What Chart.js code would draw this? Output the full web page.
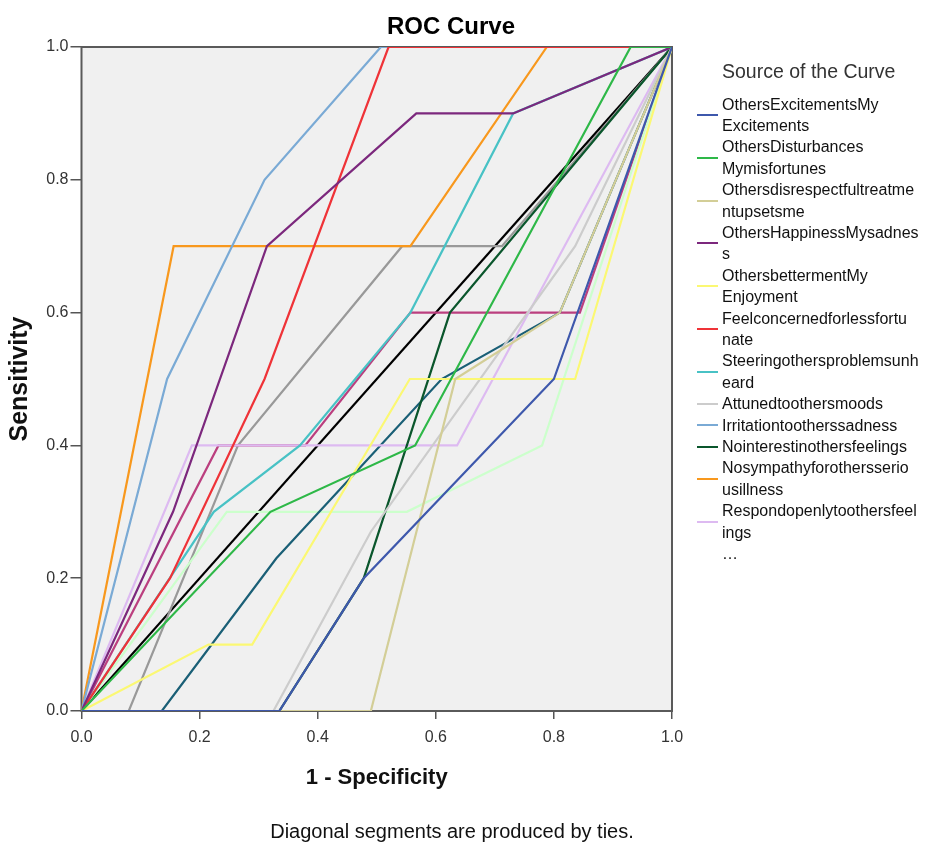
<!DOCTYPE html>
<html>
<head>
<meta charset="utf-8">
<script src="https://cdn.jsdelivr.net/npm/chart.js@4/dist/chart.umd.min.js"></script>
<style>
  html, body { margin: 0; padding: 0; background: #ffffff; }
  #wrap { position: relative; width: 932px; height: 846px; font-family: 'Liberation Sans', Arial, sans-serif; }
  #c { position: absolute; left: 0; top: 0; }
  #title { position: absolute; left: 451px; top: 12px; transform: translateX(-50%); font-size: 24px; font-weight: bold; line-height: 28px; color: #000; white-space: nowrap; }
  #foot { position: absolute; left: 452px; top: 819px; transform: translateX(-50%); font-size: 20px; line-height: 24px; color: #111; white-space: nowrap; }
  #legend { position: absolute; left: 697px; top: 59px; white-space: nowrap; }
  #legend .lt { margin-left: 25px; font-size: 19.5px; line-height: 24px; color: #333; margin-bottom: 10.5px; }
  #legend .it { display: flex; align-items: center; font-size: 16px; line-height: 21.4px; color: #111; }
  #legend .sw { width: 21px; height: 2px; margin-right: 4px; flex: none; }
</style>
</head>
<body>
<div id="wrap">
  <canvas id="c" width="932" height="846"></canvas>
  <div id="title">ROC Curve</div>
  <div id="legend"></div>
  <div id="foot">Diagonal segments are produced by ties.</div>
</div>
<script>
// ---- data (false positive rate = 1 - specificity, true positive rate = sensitivity) ----
const excitementsX   = [0, 0.335, 0.478, 0.80, 1];
const excitementsY   = [0, 0,     0.20,  0.50, 1];
const disturbancesX  = [0, 0.32, 0.565, 0.93, 1];
const disturbancesY  = [0, 0.30, 0.40,  1.00, 1];
const disrespectX    = [0, 0.49, 0.633, 0.81, 1];
const disrespectY    = [0, 0,    0.50,  0.60, 1];
const happinessX     = [0, 0.155, 0.314, 0.567, 0.731, 1];
const happinessY     = [0, 0.30,  0.70,  0.90,  0.90,  1];
const bettermentX    = [0, 0.215, 0.289, 0.556, 0.836, 1];
const bettermentY    = [0, 0.10,  0.10,  0.50,  0.50,  1];
const concernedX     = [0, 0.15, 0.31, 0.52, 1];
const concernedY     = [0, 0.20, 0.50, 1.00, 1];
const steeringX      = [0, 0.224, 0.37, 0.557, 0.731, 1];
const steeringY      = [0, 0.30,  0.40, 0.60,  0.90,  1];
const attunedX       = [0, 0.325, 0.49, 0.836, 1];
const attunedY       = [0, 0,     0.27, 0.70,  1];
const irritationX    = [0, 0.145, 0.31, 0.507, 1];
const irritationY    = [0, 0.50,  0.80, 1.00,  1];
const nointerestX    = [0, 0.335, 0.478, 0.624, 1];
const nointerestY    = [0, 0,     0.20,  0.60,  1];
const nosympathyX    = [0, 0.156, 0.557, 0.788, 1];
const nosympathyY    = [0, 0.70,  0.70,  1.00,  1];
const respondX       = [0, 0.187, 0.636, 1];
const respondY       = [0, 0.40,  0.40,  1];
const hidden13X      = [0, 0.136, 0.33, 0.61, 0.81, 1];
const hidden13Y      = [0, 0,     0.23, 0.50, 0.60, 1];
const hidden14X      = [0, 0.246, 0.551, 0.78, 1];
const hidden14Y      = [0, 0.30,  0.30,  0.40, 1];
const hidden15X      = [0, 0.232, 0.379, 0.557, 0.844, 1];
const hidden15Y      = [0, 0.40,  0.40,  0.60,  0.60,  1];
const hidden16X      = [0, 0.08, 0.265, 0.543, 0.712, 1];
const hidden16Y      = [0, 0,    0.40,  0.70,  0.70,  1];
const referenceX     = [0, 1];
const referenceY     = [0, 1];

const seriesLabels = [
  ['OthersExcitementsMy', 'Excitements'],
  ['OthersDisturbances', 'Mymisfortunes'],
  ['Othersdisrespectfultreatme', 'ntupsetsme'],
  ['OthersHappinessMysadnes', 's'],
  ['OthersbettermentMy', 'Enjoyment'],
  ['Feelconcernedforlessfortu', 'nate'],
  ['Steeringothersproblemsunh', 'eard'],
  ['Attunedtoothersmoods'],
  ['Irritationtootherssadness'],
  ['Nointerestinothersfeelings'],
  ['Nosympathyforothersserio', 'usillness'],
  ['Respondopenlytoothersfeel', 'ings'],
  ['(curve 13)'], ['(curve 14)'], ['(curve 15)'], ['(curve 16)'],
  ['Reference Line']
];
const seriesX = [excitementsX, disturbancesX, disrespectX, happinessX, bettermentX, concernedX,
  steeringX, attunedX, irritationX, nointerestX, nosympathyX, respondX,
  hidden13X, hidden14X, hidden15X, hidden16X, referenceX];
const seriesY = [excitementsY, disturbancesY, disrespectY, happinessY, bettermentY, concernedY,
  steeringY, attunedY, irritationY, nointerestY, nosympathyY, respondY,
  hidden13Y, hidden14Y, hidden15Y, hidden16Y, referenceY];
const legendCount = 12;
const tickValues = [0, 0.2, 0.4, 0.6, 0.8, 1.0];

// ---- styles ----
const colors = ['#3e58ac', '#2eb848', '#d3ce97', '#7c287d', '#fbf873', '#ef3338',
  '#48c2c5', '#cccccc', '#7aaad5', '#0a562c', '#f8981d', '#ddbaf1',
  '#1a5f76', '#ccffcc', '#bb3f7f', '#999999', '#000000'];
const FONT = "'Liberation Sans', Arial, sans-serif";

const datasets = seriesX.map((xs, i) => ({
  label: seriesLabels[i].join(''),
  data: xs.map((x, k) => ({ x: x, y: seriesY[i][k] })),
  borderColor: colors[i],
  backgroundColor: colors[i],
  borderWidth: 2.2,
  pointRadius: 0,
  tension: 0,
  fill: false
}));

const plotFrame = {
  id: 'plotFrame',
  beforeDatasetsDraw(chart) {
    const { ctx, chartArea: a } = chart;
    ctx.save();
    ctx.fillStyle = '#f0f0f0';
    ctx.fillRect(a.left, a.top, a.right - a.left, a.bottom - a.top);
    ctx.strokeStyle = '#5a5a5a';
    ctx.lineWidth = 2;
    ctx.strokeRect(a.left, a.top, a.right - a.left, a.bottom - a.top);
    ctx.restore();
  }
};

new Chart(document.getElementById('c'), {
  type: 'line',
  data: { datasets: datasets },
  plugins: [plotFrame],
  options: {
    responsive: false,
    animation: false,
    devicePixelRatio: 1,
    layout: { padding: { left: 0, top: 47, right: 260, bottom: 0 } },
    plugins: { legend: { display: false }, tooltip: { enabled: false }, title: { display: false } },
    scales: {
      x: {
        type: 'linear', min: 0, max: 1, position: 'bottom',
        afterFit(s) { s.height = 846 - 711; },
        afterBuildTicks(s) { s.ticks = tickValues.map(v => ({ value: v })); },
        ticks: { callback: v => Number(v).toFixed(1), font: { size: 16, family: FONT }, color: '#333', padding: 9, maxRotation: 0, autoSkip: false },
        grid: { drawOnChartArea: false, drawTicks: true, tickLength: 8, color: '#555', lineWidth: 1.5 },
        border: { display: false },
        title: { display: true, text: '1 - Specificity', color: '#111', font: { size: 22, weight: 'bold', family: FONT }, padding: { top: 0, bottom: 54.8 } }
      },
      y: {
        type: 'linear', min: 0, max: 1, position: 'left',
        afterFit(s) { s.width = 81.5; },
        afterBuildTicks(s) { s.ticks = tickValues.map(v => ({ value: v })); },
        ticks: { callback: v => Number(v).toFixed(1), font: { size: 16, family: FONT }, color: '#333', padding: 2, autoSkip: false },
        grid: { drawOnChartArea: false, drawTicks: true, tickLength: 11, color: '#555', lineWidth: 1.5 },
        border: { display: false },
        title: { display: true, text: 'Sensitivity', color: '#111', font: { size: 25, weight: 'bold', family: FONT }, padding: { top: 5, bottom: 0 } }
      }
    }
  }
});

// ---- legend (first 12 curves, then ellipsis) ----
const lg = document.getElementById('legend');
let html = '<div class="lt">Source of the Curve</div>';
for (let i = 0; i < legendCount; i++) {
  html += '<div class="it"><span class="sw" style="background:' + colors[i] + '"></span><span>' +
    seriesLabels[i].join('<br>') + '</span></div>';
}
html += '<div class="it"><span class="sw" style="background:transparent"></span><span>…</span></div>';
lg.innerHTML = html;
</script>
</body>
</html>
